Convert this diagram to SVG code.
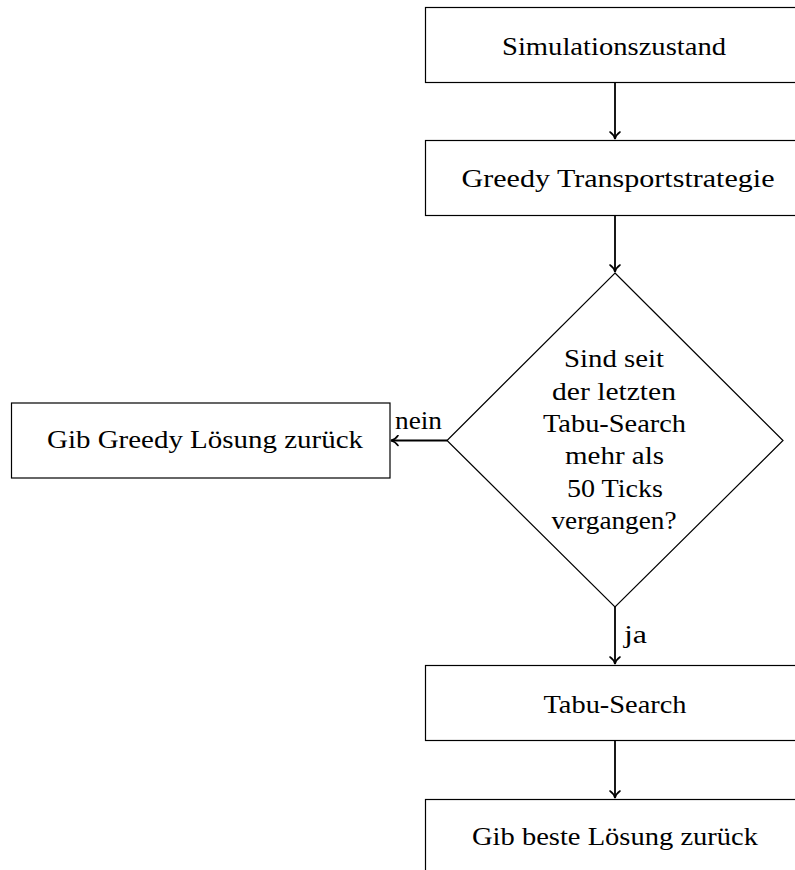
<svg xmlns="http://www.w3.org/2000/svg" width="795" height="870" viewBox="0 0 795 870">
<style>
.box{fill:#fff;stroke:#000;stroke-width:1.2}
.t{font-family:"Liberation Serif","DejaVu Serif",serif;font-size:25px;fill:#000;text-anchor:middle}
.l{font-family:"Liberation Serif","DejaVu Serif",serif;font-size:25px;fill:#000}
.c{fill:none;stroke:#000;stroke-width:1.8}
</style>
<defs>
<marker id="ah" viewBox="-10 -6 12 12" refX="0" refY="0" markerWidth="12" markerHeight="12" markerUnits="userSpaceOnUse" orient="auto">
<path d="M-7,-5 C-5,-2 -2,-0.5 0,0 C-2,0.5 -5,2 -7,5" fill="none" stroke="#000" stroke-width="1.6" stroke-linecap="round"/>
</marker>
</defs>
<rect width="795" height="870" fill="#fff"/>
<g id="n1"><rect class="box" x="425.5" y="7.5" width="380" height="75"/><text class="t" x="614" y="55" textLength="224" lengthAdjust="spacingAndGlyphs">Simulationszustand</text></g>
<g id="n2"><rect class="box" x="425.5" y="140.5" width="380" height="75"/><text class="t" x="618" y="187" textLength="313" lengthAdjust="spacingAndGlyphs">Greedy Transportstrategie</text></g>
<g id="n3"><polygon class="box" points="615,273 783,440.5 615,607 447,440.5"/>
<text class="t" x="614" y="367" textLength="100" lengthAdjust="spacingAndGlyphs">Sind seit</text>
<text class="t" x="614" y="400" textLength="124" lengthAdjust="spacingAndGlyphs">der letzten</text>
<text class="t" x="614.5" y="432" textLength="143" lengthAdjust="spacingAndGlyphs">Tabu-Search</text>
<text class="t" x="614.5" y="464" textLength="99" lengthAdjust="spacingAndGlyphs">mehr als</text>
<text class="t" x="615" y="497" textLength="96" lengthAdjust="spacingAndGlyphs">50 Ticks</text>
<text class="t" x="614" y="529" textLength="125" lengthAdjust="spacingAndGlyphs">vergangen?</text></g>
<g id="n4"><rect class="box" x="11.5" y="403" width="378.5" height="75"/><text class="t" x="205" y="448" textLength="316" lengthAdjust="spacingAndGlyphs">Gib Greedy Lösung zurück</text></g>
<g id="n5"><rect class="box" x="425.5" y="665.5" width="380" height="75"/><text class="t" x="615" y="713" textLength="143" lengthAdjust="spacingAndGlyphs">Tabu-Search</text></g>
<g id="n6"><rect class="box" x="425.5" y="799.5" width="380" height="75"/><text class="t" x="615" y="845" textLength="286" lengthAdjust="spacingAndGlyphs">Gib beste Lösung zurück</text></g>
<g id="edges">
<line class="c" x1="615" y1="83" x2="615" y2="139" marker-end="url(#ah)"/>
<line class="c" x1="615" y1="216" x2="615" y2="272" marker-end="url(#ah)"/>
<line class="c" x1="447" y1="440.5" x2="391" y2="440.5" marker-end="url(#ah)"/>
<text class="l" x="395" y="429" textLength="47" lengthAdjust="spacingAndGlyphs">nein</text>
<line class="c" x1="615" y1="607" x2="615" y2="664" marker-end="url(#ah)"/>
<text class="l" x="624" y="643" textLength="23" lengthAdjust="spacingAndGlyphs">ja</text>
<line class="c" x1="615" y1="741" x2="615" y2="798" marker-end="url(#ah)"/>
</g>
</svg>
